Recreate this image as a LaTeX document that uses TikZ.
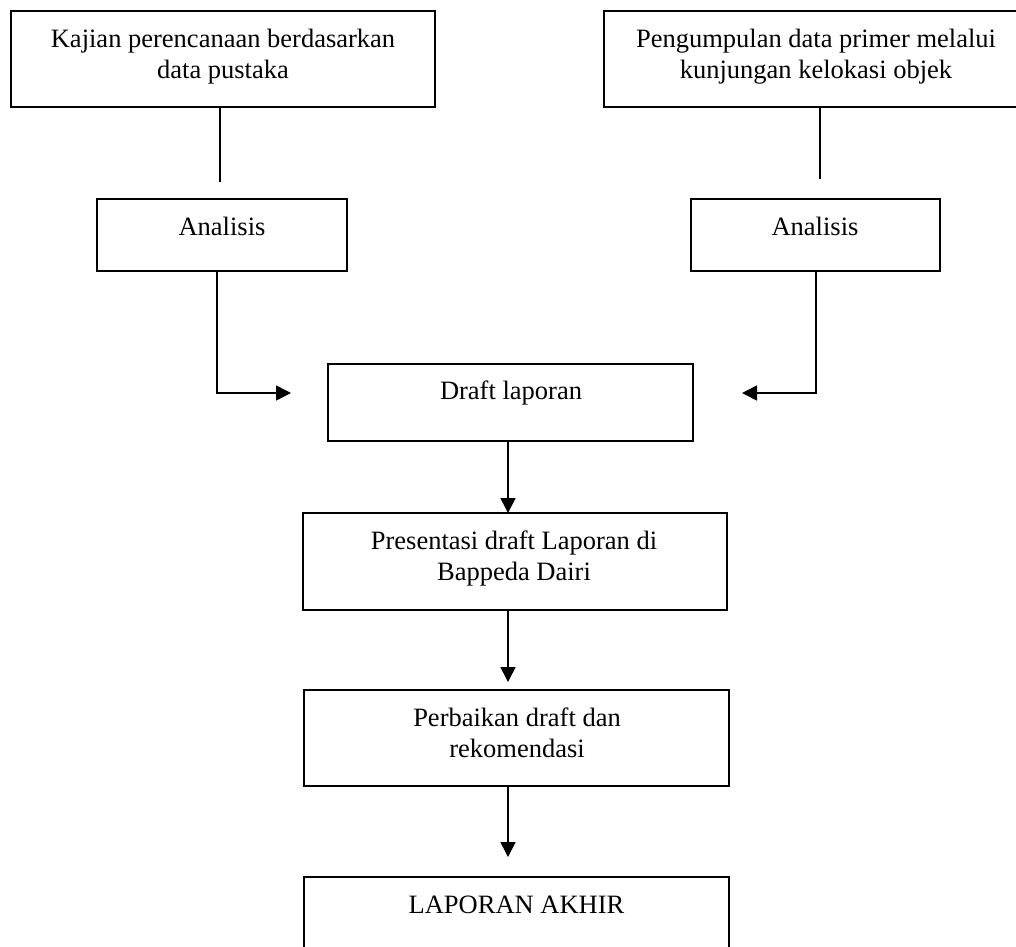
\documentclass[tikz,border=0pt]{standalone}
\usepackage{fontspec}
\setmainfont{Liberation Serif}
\usetikzlibrary{arrows.meta}
\newcommand\boxfont{\fontsize{26.5}{31}\selectfont}
\tikzset{
  boxst/.style={draw, line width=1.6pt, inner sep=0pt, outer sep=0pt},
  txt/.style={font=\boxfont, align=center, inner sep=0pt, anchor=base},
  conn/.style={line width=1.6pt},
  arr/.style={conn, -{Triangle[length=15pt,width=15pt]}},
}
\begin{document}
\begin{tikzpicture}[x=1pt,y=-1pt]
\useasboundingbox (0,0) rectangle (1016,946);
\fill[white] (0,0) rectangle (1016,946);
% boxes
\node[boxst, minimum width=424pt, minimum height=96pt] (k1) at (223,59) {};
\node[boxst, minimum width=414pt, minimum height=96pt] (k2) at (811,59) {};
\node[boxst, minimum width=250pt, minimum height=72pt] (a1) at (222,235) {};
\node[boxst, minimum width=249pt, minimum height=72pt] (a2) at (815.5,235) {};
\node[boxst, minimum width=365pt, minimum height=77pt] (dr) at (510.5,402.5) {};
\node[boxst, minimum width=424pt, minimum height=97pt] (pr) at (515,561.5) {};
\node[boxst, minimum width=425pt, minimum height=96pt] (pb) at (516.5,738) {};
\node[boxst, minimum width=425pt, minimum height=75pt] (la) at (516.5,914.5) {};
% texts (anchor = baseline of the last line)
\node[txt] (k1t) at (223,78) {Kajian perencanaan berdasarkan\\data pustaka};
\node[txt] (k2t) at (816,78) {Pengumpulan data primer melalui\\kunjungan kelokasi objek};
\node[txt] (a1t) at (222,235) {Analisis};
\node[txt] (a2t) at (815,235) {Analisis};
\node[txt] (drt) at (511,399) {Draft laporan};
\node[txt] (prt) at (514,580) {Presentasi draft Laporan di\\Bappeda Dairi};
\node[txt] (pbt) at (517,757) {Perbaikan draft dan\\rekomendasi};
\node[txt] (lat) at (516.5,913) {LAPORAN AKHIR};
% coordinates
\coordinate (c1) at (220,182);
\coordinate (c2) at (820,179);
\coordinate (e1) at (217,393);
\coordinate (t1) at (291,393);
\coordinate (e2) at (816,393);
\coordinate (t2) at (742,393);
\coordinate (mx) at (508,0);
\coordinate (t4) at (508,682);
\coordinate (t5) at (508,857);
% connectors
\draw[conn] (c1 |- k1.south) -- (c1);
\draw[conn] (c2 |- k2.south) -- (c2);
\draw[arr] (e1 |- a1.south) -- (e1) -- (t1);
\draw[arr] (e2 |- a2.south) -- (e2) -- (t2);
\draw[arr] (dr.south -| mx) -- (pr.north -| mx);
\draw[arr] (pr.south -| mx) -- (t4);
\draw[arr] (pb.south -| mx) -- (t5);
\end{tikzpicture}
\end{document}
